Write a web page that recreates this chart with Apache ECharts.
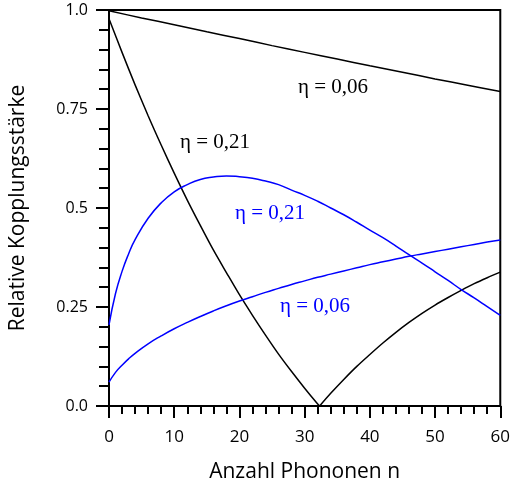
<!DOCTYPE html>
<html>
<head>
<meta charset="utf-8">
<script src="https://cdn.jsdelivr.net/npm/echarts@6/dist/echarts.min.js"></script>
<style>html,body{margin:0;padding:0;background:#fff}#c{width:513px;height:489px}</style>
</head>
<body>
<div id="c"></div>
<script>
// Data
const nCoarse = [0, 5, 10, 15, 20, 25, 30, 35, 40, 45, 50, 55, 60];
const carrier006 = [0.998, 0.980, 0.963, 0.945, 0.928, 0.910, 0.893, 0.876, 0.859, 0.843, 0.826, 0.810, 0.794];

const nCarrier021 = [0,2,4,6,8,10,12,14,16,18,20,22,24,26,28,30,32,32.3,34,36,38,40,42,44,46,48,50,52,54,56,58,60];
const carrier021 = [0.978,0.893,0.811,0.733,0.659,0.588,0.520,0.456,0.394,0.337,0.281,0.229,0.179,0.131,0.087,0.045,0.005,0.0,0.032,0.067,0.100,0.130,0.159,0.186,0.211,0.234,0.255,0.274,0.292,0.309,0.324,0.338];
const cuspIndex = 17; // the zero crossing (cusp) at n ≈ 32.3

const nSide = [0,1,2,3,4,6,8,10,12,14,16,18,20,22,24,26,28,30,32,34,36,38,40,42,44,46,48,50,52,54,56,58,60];
const side006 = [0.060,0.085,0.103,0.119,0.133,0.157,0.177,0.195,0.211,0.226,0.240,0.253,0.265,0.276,0.287,0.297,0.307,0.316,0.325,0.333,0.341,0.349,0.357,0.364,0.371,0.378,0.384,0.390,0.396,0.402,0.408,0.414,0.419];
const side021 = [0.205,0.284,0.340,0.384,0.420,0.474,0.513,0.541,0.559,0.572,0.578,0.581,0.579,0.575,0.568,0.559,0.545,0.532,0.517,0.500,0.483,0.464,0.444,0.425,0.404,0.382,0.361,0.339,0.317,0.294,0.273,0.251,0.229];

const yTickLabels = {0: '0.0', 0.25: '0.25', 0.5: '0.5', 0.75: '0.75', 1: '1.0'};

const labels = [
  {text: 'η = 0,06', color: '#000', x: 298, y: 77},
  {text: 'η = 0,21', color: '#000', x: 180, y: 132},
  {text: 'η = 0,21', color: '#0000ff', x: 235, y: 203},
  {text: 'η = 0,06', color: '#0000ff', x: 280, y: 296}
];

function pairs(xs, ys) { return xs.map((x, i) => [x, ys[i]]); }
const c021 = pairs(nCarrier021, carrier021);

const chart = echarts.init(document.getElementById('c'), null, {renderer: 'canvas'});
const sansFont = 'Open Sans';
const blackLine = {color: '#000', width: 1.5};
const blueLine = {color: '#0000ff', width: 1.5};
chart.setOption({
  animation: false,
  backgroundColor: '#fff',
  grid: {left: 108, right: 10, top: 10, bottom: 83, show: true, borderColor: '#000', borderWidth: 2},
  xAxis: {
    type: 'value', min: 0, max: 60, interval: 10,
    name: 'Anzahl Phononen n', nameLocation: 'middle', nameGap: 56,
    nameTextStyle: {fontFamily: sansFont, fontSize: 21, color: '#000'},
    axisLine: {show: true, onZero: false, lineStyle: {color: '#000', width: 2}},
    axisTick: {show: true, inside: false, length: 12, lineStyle: {color: '#000', width: 2}},
    minorTick: {show: true, splitNumber: 5, length: 8, lineStyle: {color: '#000', width: 2}},
    axisLabel: {fontFamily: sansFont, fontSize: 17, color: '#000', margin: 23},
    splitLine: {show: false}
  },
  yAxis: {
    type: 'value', min: 0, max: 1, interval: 0.25,
    name: 'Relative Kopplungsstärke', nameLocation: 'middle', nameGap: 80,
    nameTextStyle: {fontFamily: sansFont, fontSize: 21, color: '#000'},
    axisLine: {show: true, onZero: false, lineStyle: {color: '#000', width: 2}},
    axisTick: {show: true, inside: false, length: 13, lineStyle: {color: '#000', width: 2}},
    minorTick: {show: true, splitNumber: 5, length: 10, lineStyle: {color: '#000', width: 2}},
    axisLabel: {fontFamily: sansFont, fontSize: 16, color: '#000', margin: 21,
      formatter: v => yTickLabels[v] !== undefined ? yTickLabels[v] : ''},
    splitLine: {show: false}
  },
  series: [
    {type: 'line', data: pairs(nCoarse, carrier006), smooth: 0.3, showSymbol: false, lineStyle: blackLine},
    {type: 'line', data: c021.slice(0, cuspIndex + 1), smooth: 0.3, showSymbol: false, lineStyle: blackLine},
    {type: 'line', data: c021.slice(cuspIndex), smooth: 0.3, showSymbol: false, lineStyle: blackLine},
    {type: 'line', data: pairs(nSide, side006), smooth: true, showSymbol: false, lineStyle: blueLine},
    {type: 'line', data: pairs(nSide, side021), smooth: true, showSymbol: false, lineStyle: blueLine}
  ],
  graphic: labels.map(l => ({
    type: 'text', left: l.x, top: l.y, z: 10,
    style: {text: l.text, fill: l.color, fontFamily: 'Liberation Serif', fontSize: 21}
  }))
});
</script>
</body>
</html>
